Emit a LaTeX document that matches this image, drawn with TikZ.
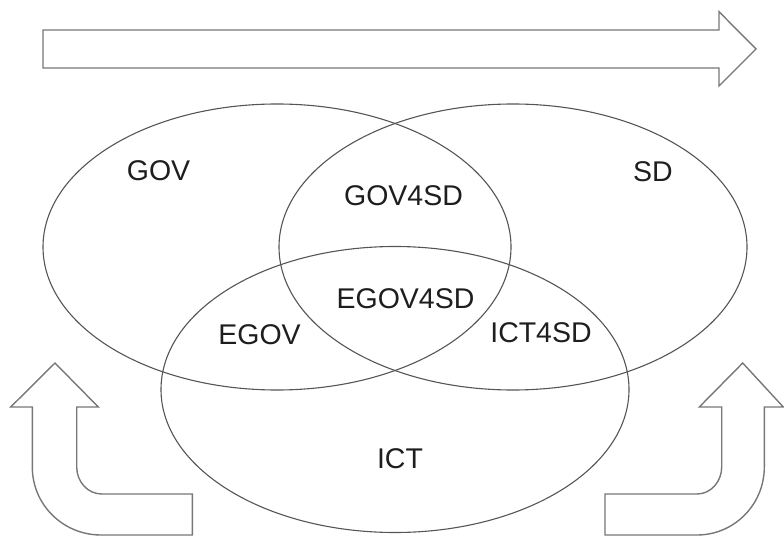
\documentclass[tikz,border=0pt]{standalone}
\usepackage{fontspec}
\setmainfont{Liberation Sans}
\usetikzlibrary{shapes.geometric}
\definecolor{ellcol}{HTML}{555555}
\definecolor{arrcol}{HTML}{777777}
\definecolor{txtcol}{HTML}{1E1E1E}
\begin{document}
\begin{tikzpicture}[x=1pt,y=-1pt,
  setell/.style={ellipse, draw=ellcol, line width=1.1pt, inner sep=0pt, minimum width=468pt, minimum height=286pt},
  bigarrow/.style={draw=arrcol, line width=1.4pt, line join=miter},
  lbl/.style={text=txtcol, font=\fontsize{28.5}{34}\selectfont, inner sep=0pt}]
\useasboundingbox (0,0) rectangle (784,537);
% top arrow
\draw[bigarrow] (43,30) -- (719,30) -- (719,11.7) -- (756,49) -- (719,86) -- (719,68) -- (43,68) -- cycle;
% ellipses
\node[setell] (gov) at (277,247) {};
\node[setell] (sd) at (513,247) {};
\node[setell] (ict) at (395,389.5) {};
% labels
\node[lbl] (tgov) at (158.5,171) {GOV};
\node[lbl] (tgov4sd) at (403.5,196) {GOV4SD};
\node[lbl] (tsd) at (653,171.5) {SD};
\node[lbl] (tegov4sd) at (405.5,299) {EGOV4SD};
\node[lbl] (tegov) at (259.5,334.5) {EGOV};
\node[lbl] (tict4sd) at (541,333) {ICT4SD};
\node[lbl] (tict) at (400,459) {ICT};
% bottom left bent arrow
\draw[bigarrow] (55,363) -- (98.3,407) -- (76.7,407) -- (76.7,467)
  .. controls (76.7,481.9) and (87.9,494) .. (101.7,494) -- (192.3,494) -- (192.3,535) -- (101,535)
  .. controls (62.9,535) and (32.3,504.6) .. (32.3,467) -- (32.3,407) -- (10.7,407) -- cycle;
% bottom right bent arrow
\draw[bigarrow] (742.7,363) -- (783.3,407) -- (764.3,407) -- (764.3,467)
  .. controls (764.3,504.6) and (734.2,535) .. (697,535) -- (605,535) -- (605,494) -- (697,494)
  .. controls (710.6,494) and (721.7,481.9) .. (721.7,467) -- (721.7,407) -- (699.3,407) -- cycle;
\end{tikzpicture}
\end{document}
